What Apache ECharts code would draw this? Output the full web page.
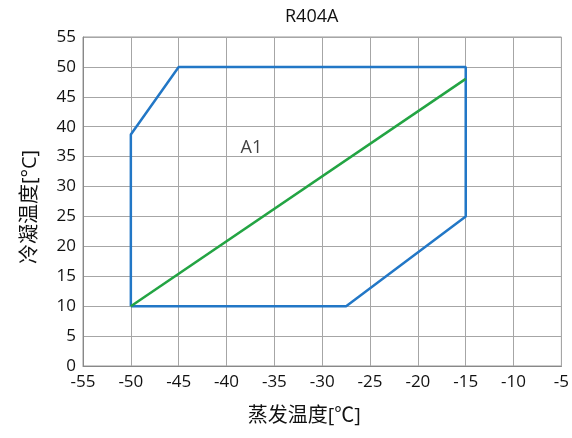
<!DOCTYPE html>
<html><head><meta charset="utf-8">
<script src="https://cdn.jsdelivr.net/npm/echarts@6/dist/echarts.min.js"></script>
<style>html,body{margin:0;padding:0;background:#fff}#c{width:572px;height:438px}</style>
</head><body><div id="c"></div>
<script>
var title = 'R404A';
var xName = '蒸发温度[℃]';
var yName = '冷凝温度[°C]';
var envelopeX = [-50, -50, -45, -15, -15, -27.5, -50];
var envelopeY = [10, 38.7, 50, 50, 25, 10, 10];
var lineX = [-50, -15];
var lineY = [10, 48];
var labelText = 'A1';
var labelPos = [-37.4, 36.5];

var font = '"Open Sans","Noto Sans CJK SC",sans-serif';
var chart = echarts.init(document.getElementById('c'));
function pairs(xs, ys){ return xs.map(function(v,i){return [v, ys[i]];}); }
chart.setOption({
  animation: false,
  title: {text: title, left: 280, top: 3, textStyle: {fontSize: 18, fontWeight: 'normal', color: '#111', fontFamily: font}},
  grid: {left: 83, right: 9, top: 37, bottom: 72, show: true, borderColor: '#999', borderWidth: 1},
  xAxis: {type: 'value', min: -55, max: -5, interval: 5,
    name: xName, nameLocation: 'middle', nameGap: 40,
    nameTextStyle: {fontSize: 20, color: '#111', fontFamily: font, padding: [0, 36, 0, 0]},
    axisLine: {show: true, lineStyle: {color: '#888'}}, axisTick: {show: false},
    axisLabel: {fontSize: 17, color: '#111', fontFamily: font, margin: 8},
    splitLine: {show: true, lineStyle: {color: '#a6a6a6', width: 1}}},
  yAxis: {type: 'value', min: 0, max: 55, interval: 5,
    name: yName, nameLocation: 'middle', nameGap: 43, nameRotate: 90,
    nameTextStyle: {fontSize: 20, color: '#111', fontFamily: font, padding: [0, 11, 0, 0]},
    axisLine: {show: true, lineStyle: {color: '#888'}}, axisTick: {show: false},
    axisLabel: {fontSize: 17, color: '#111', fontFamily: font, margin: 7},
    splitLine: {show: true, lineStyle: {color: '#a6a6a6', width: 1}}},
  series: [
    {type: 'line', data: pairs(envelopeX, envelopeY), symbol: 'none',
     lineStyle: {color: '#2277c6', width: 2.5}},
    {type: 'line', data: pairs(lineX, lineY), symbol: 'none',
     lineStyle: {color: '#23a443', width: 2.5}},
    {type: 'scatter', data: [labelPos], symbolSize: 0,
     label: {show: true, formatter: labelText, position: 'inside', fontSize: 18, color: '#111', fontFamily: font}}
  ]
});
</script></body></html>
